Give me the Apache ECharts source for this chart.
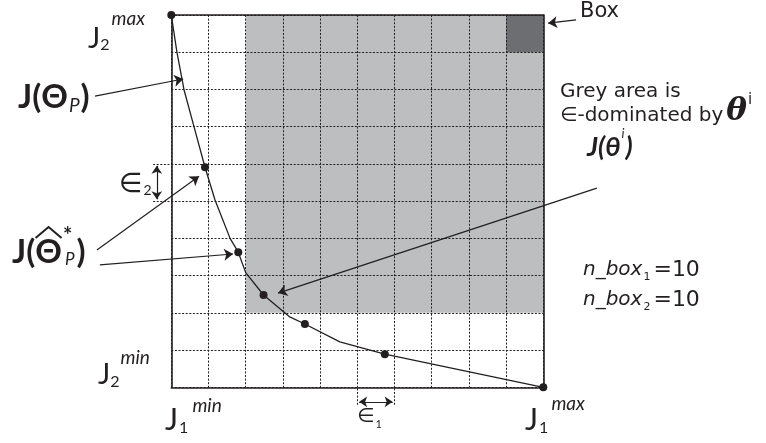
<!DOCTYPE html>
<html><head><meta charset="utf-8">
<script src="https://cdn.jsdelivr.net/npm/echarts@6/dist/echarts.min.js"></script>
<style>html,body{margin:0;padding:0;background:#fff}#c{width:766px;height:443px}</style>
</head><body><div id="c"></div>
<script>
// ---- data (box units: 0..10 on each objective) ----
const nBox1 = 10;
const nBox2 = 10;
const gridTicks = [0, 1, 2, 3, 4, 5, 6, 7, 8, 9, 10];
// Pareto front J(Theta_P): vertices of the curve
const frontJ1 = [0, 0.15, 0.34, 0.61, 0.906, 1.175, 1.58, 1.80, 2.0, 2.48, 3.17, 3.59, 4.53, 5.74, 10];
const frontJ2 = [10, 9.01, 8.0, 7.0, 5.91, 5.03, 4.0, 3.63, 3.08, 2.48, 1.90, 1.70, 1.22, 0.89, 0];
// which vertices are members of the approximated set (drawn as dots)
const frontDot = [1, 0, 0, 0, 1, 0, 0, 1, 0, 1, 0, 1, 0, 1, 1];
// grey (epsilon-dominated) region lower-left corner and the highlighted box
const greyCorner = [2, 2];
const boxCell = [9, 9];
// epsilon cell examples
const eps1Cell = [5, 6];
const eps2Cell = [5, 6];
// annotation arrows (from label -> to point), in box units
const arrowFrom = [[-2.05, 7.82], [-2.0, 3.69], [-1.92, 3.29], [11.44, 5.35], [10.88, 9.87]];
const arrowTo   = [[0.32, 8.28], [0.745, 5.67], [1.66, 3.58], [2.87, 2.53], [10.13, 9.78]];

const INK = '#231f20';
const FJ = 'Lato, "DejaVu Sans", sans-serif';
const FB = '"DejaVu Sans", sans-serif';

const curveData = frontJ1.map((x, i) => ({ value: [x, frontJ2[i]], symbolSize: frontDot[i] ? 8 : 0 }));

function axis(pos, split) {
  return {
    type: 'value', min: gridTicks[0], max: gridTicks[gridTicks.length - 1], interval: 1, position: pos, z: 5,
    axisLine: { show: true, onZero: false, lineStyle: { color: INK, width: 1.6 } },
    axisTick: { show: false }, axisLabel: { show: false },
    splitLine: { show: split, lineStyle: { color: INK, width: 1, type: [2, 1.6] } }
  };
}

const mctx = document.createElement('canvas').getContext('2d');
function fontStr(p) {
  return (p.st || 'normal') + ' ' + (p.w || 'normal') + ' ' + p.s + 'px ' + (p.f || FJ);
}
function T(text, x, y, p) {
  return {
    type: 'text', x: x, y: y, z: 20,
    style: { text: text, fill: INK, textAlign: 'left', textVerticalAlign: 'middle', font: fontStr(p) }
  };
}
// lay out pieces one after another, measuring each
function seq(x0, parts, out) {
  let x = x0;
  const pos = [];
  parts.forEach(p => {
    x += (p.dx || 0);
    const f = fontStr(p);
    mctx.font = f;
    const w = mctx.measureText(p.t).width;
    out.push(T(p.t, x, p.y, p));
    pos.push([x, w]);
    if (!p.stack) x += w;
  });
  return pos;
}

const G = [];
// J2 max / min, J1 min / max
seq(88, [{ t: 'J', s: 29, y: 39 }, { t: '2', s: 16, y: 45, dx: 0 }, { t: 'max', s: 19, y: 19, st: 'italic', dx: 2 }], G);
seq(98, [{ t: 'J', s: 29, y: 375 }, { t: '2', s: 16, y: 382 }, { t: 'min', s: 19, y: 358, st: 'italic', dx: 1 }], G);
seq(165, [{ t: 'J', s: 31, y: 420 }, { t: '1', s: 16, y: 428, dx: 1 }, { t: 'min', s: 19, y: 406, st: 'italic', dx: 4 }], G);
seq(525, [{ t: 'J', s: 31, y: 420 }, { t: '1', s: 16, y: 428, dx: 1 }, { t: 'max', s: 19, y: 404, st: 'italic', dx: 3 }], G);
// epsilons
seq(119, [{ t: '\u2208', s: 27, y: 185, f: FB }, { t: '2', s: 14, y: 190, dx: 1 }], G);
seq(357, [{ t: '\u2208', s: 20, y: 417, f: FB }, { t: '1', s: 11, y: 424, dx: 1 }], G);
// J(Theta_P)
seq(18, [{ t: 'J(\u0398', s: 33, y: 97, w: 'bold' }, { t: 'P', s: 19, y: 106, st: 'italic', dx: 1 }, { t: ')', s: 33, y: 97, w: 'bold', dx: 1 }], G);
// J(Theta-hat * _P)
const hp = seq(12, [
  { t: 'J(', s: 33, y: 252, w: 'bold' }, { t: '\u0398', s: 33, y: 252, w: 'bold' },
  { t: '*', s: 22, y: 236, w: 'bold', dx: 1, stack: true }, { t: 'P', s: 17, y: 260, st: 'italic', dx: 2 },
  { t: ')', s: 33, y: 252, w: 'bold', dx: 2 }
], G);
const thC = hp[1][0] + hp[1][1] / 2;
G.push({ type: 'polyline', z: 20, shape: { points: [[thC - 13, 238], [thC, 227], [thC + 13, 238]] }, style: { stroke: INK, lineWidth: 2, fill: null } });
// J(theta^i)
seq(587, [{ t: 'J(\u03b8', s: 27, y: 147, w: 'bold', st: 'italic' }, { t: 'i', s: 13, y: 134, st: 'italic', dx: 1 }, { t: ')', s: 27, y: 147, w: 'bold', st: 'italic', dx: 1 }], G);
// Box
seq(580, [{ t: 'Box', s: 21, y: 12, f: FB }], G);
// Grey area text
seq(560, [{ t: 'Grey area is', s: 20, y: 92, f: FB }], G);
seq(560, [{ t: '\u2208-dominated by', s: 20, y: 116, f: FB },
          { t: '\u03b8', s: 31, y: 112, w: 'bold', st: 'italic', f: '"DejaVu Serif", serif', dx: 3 },
          { t: 'i', s: 15, y: 100, f: FB, dx: 1 }], G);
// n_box
seq(583, [{ t: 'n_box', s: 20, y: 270, st: 'italic', f: FB }, { t: String(1), s: 11, y: 277, f: FB, dx: 1 }, { t: '=' + nBox1, s: 22, y: 270, f: FB, dx: 3 }], G);
seq(583, [{ t: 'n_box', s: 20, y: 300, st: 'italic', f: FB }, { t: String(2), s: 11, y: 307, f: FB, dx: 1 }, { t: '=' + nBox2, s: 22, y: 300, f: FB, dx: 3 }], G);

const chart = echarts.init(document.getElementById('c'), null, { renderer: 'canvas' });
chart.setOption({
  animation: false,
  backgroundColor: '#fff',
  grid: { left: 171.3, top: 15, width: 372, height: 372.3, outerBoundsMode: 'none', containLabel: false },
  xAxis: [axis('bottom', true), axis('top', false)],
  yAxis: [axis('left', true), axis('right', false)],
  series: [
    {
      type: 'line', data: [], z: 1, silent: true,
      markArea: {
        silent: true,
        data: [
          [{ coord: greyCorner, itemStyle: { color: '#bcbec0' } }, { coord: [10, 10] }],
          [{ coord: boxCell, itemStyle: { color: '#6d6e71' } }, { coord: [boxCell[0] + 1, boxCell[1] + 1] }]
        ]
      }
    },
    {
      type: 'line', data: curveData, z: 10, symbol: 'circle', showSymbol: true,
      lineStyle: { color: INK, width: 1.3 }, itemStyle: { color: INK }
    },
    {
      type: 'lines', coordinateSystem: 'cartesian2d', z: 10, clip: false,
      symbol: ['none', 'arrow'], symbolSize: 9,
      lineStyle: { color: INK, width: 1.2, opacity: 1 },
      data: arrowFrom.map((f, i) => ({ coords: [f, arrowTo[i]] }))
    },
    {
      type: 'lines', coordinateSystem: 'cartesian2d', z: 10, clip: false,
      symbol: ['arrow', 'arrow'], symbolSize: 8,
      lineStyle: { color: INK, width: 1.2, opacity: 1 },
      data: [
        { coords: [[-0.39, eps2Cell[0] + 0.05], [-0.39, eps2Cell[1] - 0.05]] },
        { coords: [[eps1Cell[0] + 0.05, -0.39], [eps1Cell[1] - 0.05, -0.39]] }
      ]
    },
    {
      type: 'lines', coordinateSystem: 'cartesian2d', z: 6, clip: false, symbol: 'none',
      lineStyle: { color: INK, width: 1, type: [2, 1.6], opacity: 1 },
      data: [
        { coords: [[-0.49, eps2Cell[0]], [0, eps2Cell[0]]] },
        { coords: [[-0.49, eps2Cell[1]], [0, eps2Cell[1]]] },
        { coords: [[eps1Cell[0], -0.47], [eps1Cell[0], 0]] },
        { coords: [[eps1Cell[1], -0.47], [eps1Cell[1], 0]] }
      ]
    }
  ],
  graphic: G
});
</script></body></html>
